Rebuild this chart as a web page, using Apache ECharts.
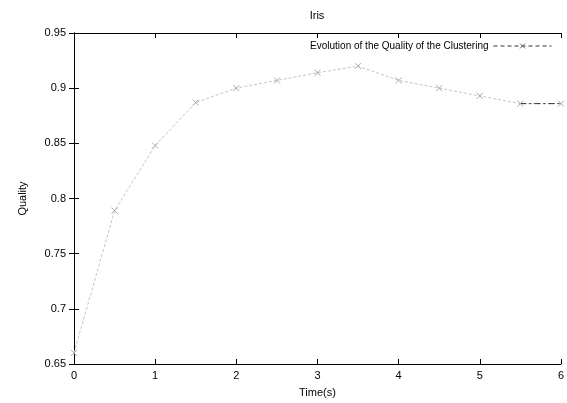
<!DOCTYPE html>
<html>
<head>
<meta charset="utf-8">
<script src="https://cdn.jsdelivr.net/npm/echarts@6/dist/echarts.min.js"></script>
<style>
  html, body { margin: 0; padding: 0; background: #fff; }
  #chart { width: 567px; height: 403px; }
</style>
</head>
<body>
<div id="chart"></div>
<script>
"use strict";

// data
const times = [0, 0.5, 1, 1.5, 2, 2.5, 3, 3.5, 4, 4.5, 5, 5.5, 6];
const quality = [0.66, 0.789, 0.848, 0.887, 0.9, 0.907, 0.914, 0.92, 0.907, 0.9, 0.893, 0.886, 0.886];
const lastSegment = [[5.5, 0.886], [6, 0.886]];
const title = "Iris";
const seriesName = "Evolution of the Quality of the Clustering";

const font = "Liberation Sans";
const cross = "path://M0,0L10,10M10,0L0,10";

const mirrorAxis = (extra) => Object.assign({
	axisLine: { show: true, lineStyle: { color: "#000", width: 1 } },
	axisTick: { show: true, inside: true, length: 5, lineStyle: { color: "#000" } },
	splitLine: { show: false },
	axisLabel: { show: false }
}, extra);

const chart = echarts.init(document.getElementById("chart"));
chart.setOption({
	animation: false,
	backgroundColor: "#fff",
	textStyle: { fontFamily: font },
	title: {
		text: title,
		left: 312,
		top: 5,
		textAlign: "center",
		textStyle: { fontFamily: font, fontSize: 11, fontWeight: "normal", color: "#000" }
	},
	legend: {
		right: 10,
		top: 36,
		align: "right",
		itemWidth: 58,
		itemHeight: 6,
		itemGap: 6,
		textStyle: { fontFamily: font, fontSize: 10, color: "#000" },
		lineStyle: { color: "#333", width: 1, type: [4, 3] },
		itemStyle: { color: "none", borderColor: "#666", borderWidth: 1 },
		data: [seriesName]
	},
	grid: { left: 74, right: 6, top: 33, bottom: 36 },
	xAxis: [
		mirrorAxis({
			type: "value", min: 0, max: 6, interval: 1, position: "bottom",
			name: "Time(s)", nameLocation: "middle", nameGap: 23,
			nameTextStyle: { fontFamily: font, fontSize: 11, color: "#000" },
			axisLabel: { show: true, margin: 6, fontFamily: font, fontSize: 11, color: "#000" }
		}),
		mirrorAxis({ type: "value", min: 0, max: 6, interval: 1, position: "top" })
	],
	yAxis: [
		mirrorAxis({
			type: "value", min: 0.65, max: 0.95, interval: 0.05, position: "left",
			name: "Quality", nameLocation: "middle", nameGap: 46,
			nameTextStyle: { fontFamily: font, fontSize: 11, color: "#000" },
			axisLabel: {
				show: true, margin: 8, fontFamily: font, fontSize: 11, color: "#000",
				formatter: (v) => String(parseFloat(v.toFixed(2)))
			}
		}),
		mirrorAxis({ type: "value", min: 0.65, max: 0.95, interval: 0.05, position: "right" })
	],
	series: [
		{
			name: seriesName,
			type: "line",
			data: times.map((t, i) => [t, quality[i]]),
			symbol: cross,
			symbolSize: 6,
			lineStyle: { color: "#c4c4c4", width: 1, type: [3, 2] },
			itemStyle: { color: "none", borderColor: "#aaa", borderWidth: 1 }
		},
		{
			type: "line",
			data: lastSegment,
			symbol: "none",
			lineStyle: { color: "#333", width: 1, type: [6, 3, 2, 3] },
			silent: true
		}
	]
});
</script>
</body>
</html>
